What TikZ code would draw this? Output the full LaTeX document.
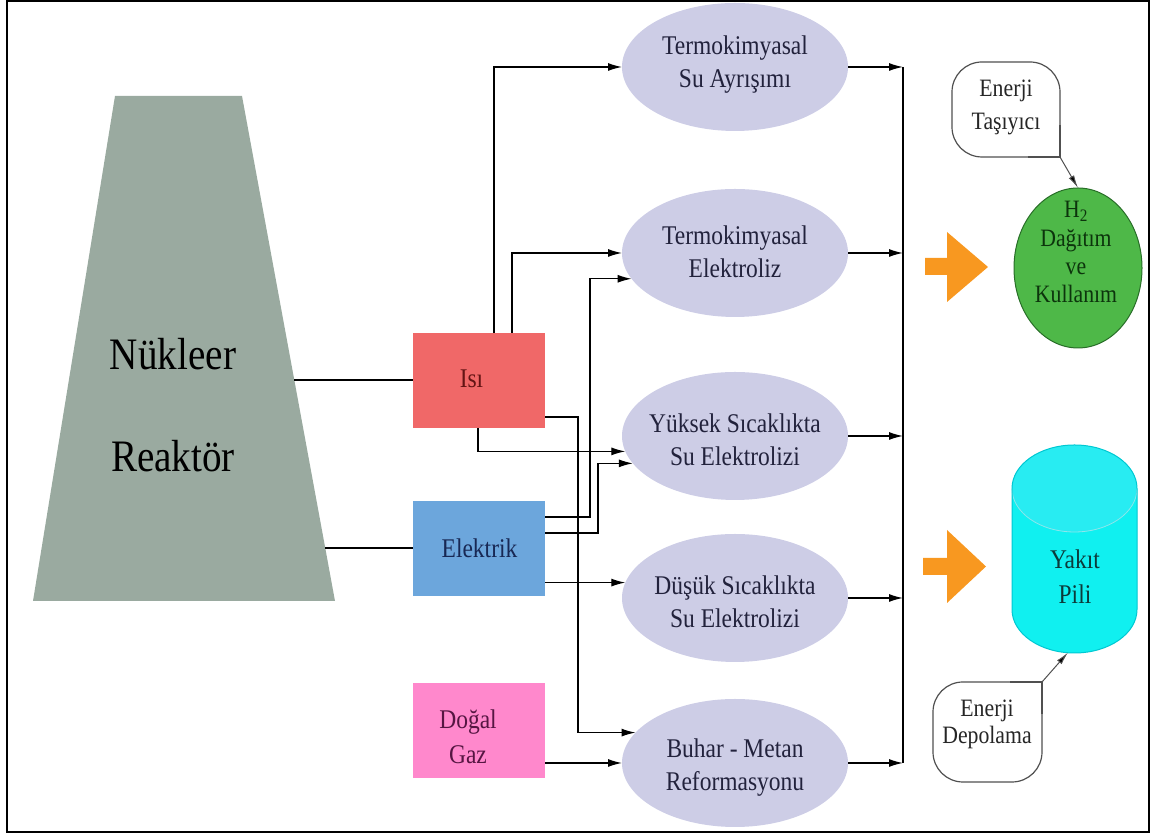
\documentclass[tikz,border=0pt]{standalone}
\usepackage{fontspec}
\setmainfont{Liberation Serif}[FakeStretch=0.87]
\usetikzlibrary{arrows.meta,shapes.geometric}
\definecolor{reactorc}{RGB}{154,170,160}
\definecolor{isired}{RGB}{240,104,104}
\definecolor{elekblue}{RGB}{108,166,220}
\definecolor{gazpink}{RGB}{255,136,204}
\definecolor{lav}{RGB}{205,205,230}
\definecolor{hgreen}{RGB}{78,184,72}
\definecolor{hedge}{RGB}{40,110,40}
\definecolor{cyanf}{RGB}{16,240,240}
\definecolor{cyanc}{RGB}{40,236,242}
\definecolor{cyane}{RGB}{0,200,210}
\definecolor{orng}{RGB}{248,152,32}
\definecolor{elltext}{RGB}{34,34,60}
\definecolor{isitext}{RGB}{100,20,20}
\definecolor{elektext}{RGB}{24,40,84}
\definecolor{gaztext}{RGB}{86,22,66}
\definecolor{htext}{RGB}{12,52,12}
\definecolor{ytext}{RGB}{12,58,58}
\definecolor{calledge}{RGB}{80,80,80}
\newcommand\fsz[2]{\fontsize{#1}{#2}\selectfont}
\begin{document}
\begin{tikzpicture}[x=1pt,y=1pt,
  arr/.style={line width=1.3pt,-{Latex[length=14pt,width=8pt]}},
  conn/.style={line width=1.3pt},
  srcbox/.style={rectangle,minimum width=132pt,minimum height=95pt,inner sep=0pt,outer sep=0pt},
  proc/.style={ellipse,fill=lav,minimum width=226pt,minimum height=128pt,inner sep=0pt,outer sep=0pt},
  ptext/.style={align=center,font=\fsz{27}{33},text=elltext,inner sep=0pt},
  btext/.style={align=center,font=\fsz{27}{35},inner sep=0pt},
  callbox/.style={rectangle,rounded corners=30pt,draw=calledge,line width=1.2pt,fill=white,inner sep=0pt,outer sep=0pt},
  calltext/.style={align=center,inner sep=0pt,text=black!85},
  tail/.style={line width=1pt,draw=calledge,-{Latex[length=13pt,width=6pt,fill=black]}}
]
\useasboundingbox (0,0) rectangle (1152,834);

% reactor
\fill[reactorc] (115,738) -- (242,738) -- (335,233) -- (33,233) -- cycle;
\node[anchor=base,font=\fsz{45}{50},inner sep=0pt] (nuk) at (173,464) {Nükleer};
\node[anchor=base,font=\fsz{45}{50},inner sep=0pt] (rea) at (173,362) {Reaktör};
\coordinate (r1) at (294.3,454);
\coordinate (r2) at (325.2,286);

% source boxes
\node[srcbox,fill=isired] (isi) at (479,453.5) {};
\node[srcbox,fill=elekblue] (elek) at (479,285.5) {};
\node[srcbox,fill=gazpink] (gaz) at (479,103.5) {};
\node[btext,anchor=base,text=isitext] (isit) at (471.5,446) {Isı};
\node[btext,anchor=base,text=elektext] (elekt) at (479.5,276) {Elektrik};
\node[btext,text=gaztext] (gazt) at (468,97.7) {Doğal\\Gaz};

% process ellipses
\node[proc] (e1) at (735,767) {};
\node[proc] (e2) at (735,581) {};
\node[proc] (e3) at (735,398) {};
\node[proc] (e4) at (735,236) {};
\node[proc] (e5) at (735,71) {};
\node[ptext] (e1t) at (735,769) {Termokimyasal\\Su Ayrışımı};
\node[ptext] (e2t) at (735,582) {Termokimyasal\\Elektroliz};
\node[ptext] (e3t) at (735,394) {Yüksek Sıcaklıkta\\Su Elektrolizi};
\node[ptext] (e4t) at (735,232) {Düşük Sıcaklıkta\\Su Elektrolizi};
\node[ptext] (e5t) at (735,66) {Buhar - Metan\\Reformasyonu};

% connectors reactor -> boxes
\draw[conn] (r1) -- (r1 -| isi.west);
\draw[conn] (r2) -- (r2 -| elek.west);

% connectors boxes -> processes
\draw[arr] (isi.north -| 494,0) |- (e1.west);
\draw[arr] (isi.north -| 512,0) |- (e2.west);
\draw[arr] (elek.east |- 0,317) -- (590,317) |- (e2.194);
\draw[arr] (isi.south -| 478,0) |- (e3.188);
\draw[arr] (elek.east |- 0,301) -- (598,301) |- (e3.195);
\draw[arr] (isi.east |- 0,417) -- (578,417) |- (e5.163);
\draw[arr] (elek.east |- e4.172) -- (e4.172);
\draw[arr] (gaz.east |- e5.west) -- (e5.west);

% collector
\coordinate (col) at (903,0);
\draw[conn] (col |- e1.east) -- (col |- e5.east);
\foreach \e in {e1,e2,e3,e4,e5}{
  \draw[arr] (\e.east) -- (\e.east -| col);
}

% orange arrows
\fill[orng] (925,559) -- (947,559) -- (947,532) -- (988,567) -- (947,602) -- (947,576) -- (925,576) -- cycle;
\fill[orng] (923,259) -- (947,259) -- (947,231) -- (986,267.5) -- (947,304) -- (947,276) -- (923,276) -- cycle;

% H2 ellipse
\node[ellipse,fill=hgreen,draw=hedge,line width=1pt,minimum width=128pt,minimum height=160pt,inner sep=0pt,outer sep=0pt] (h2) at (1078,566) {};
\node[align=center,font=\fsz{25}{28.3},text=htext,inner sep=0pt] (h2t) at (1076,581.8) {H\textsubscript{2}\\Dağıtım\\ve\\Kullanım};

% fuel cell cylinder
\fill[cyanf] (1012,345.5) -- (1012,224.5) arc[start angle=180,end angle=360,x radius=62.5,y radius=43.5] -- (1137,345.5) arc[start angle=0,end angle=180,x radius=62.5,y radius=43.5] -- cycle;
\fill[cyanc] (1074.5,345.5) ellipse[x radius=62.5,y radius=43.5];
\draw[cyane!45,line width=0.8pt] (1012,345.5) arc[start angle=180,end angle=360,x radius=62.5,y radius=43.5];
\draw[cyane,line width=1pt] (1012,345.5) -- (1012,224.5) arc[start angle=180,end angle=360,x radius=62.5,y radius=43.5] -- (1137,345.5) arc[start angle=0,end angle=180,x radius=62.5,y radius=43.5];
\node[btext,text=ytext] (yakit) at (1075,257.7) {Yakıt\\Pili};
\coordinate (cylb) at (1068,181.5);

% callouts
\node[callbox,minimum width=108pt,minimum height=95pt] (tasb) at (1006,724.5) {};
\fill[white] ([xshift=-32pt]tasb.south east) rectangle ([yshift=32pt]tasb.south east);
\draw[calledge,line width=1.2pt] ([xshift=-32pt]tasb.south east) -- (tasb.south east) -- ([yshift=32pt]tasb.south east);
\node[calltext,font=\fsz{25}{33}] (tas) at (1006,726.3) {Enerji\\Taşıyıcı};
\draw[tail] (tasb.south east) -- (h2.north);

\node[callbox,minimum width=109pt,minimum height=100pt] (depb) at (987.5,102) {};
\fill[white] ([xshift=-32pt]depb.north east) rectangle ([yshift=-32pt]depb.north east);
\draw[calledge,line width=1.2pt] ([xshift=-32pt]depb.north east) -- (depb.north east) -- ([yshift=-32pt]depb.north east);
\node[calltext,font=\fsz{25}{27}] (dep) at (987,109.3) {Enerji\\Depolama};
\draw[tail] (depb.north east) -- (cylb);

% frame
\draw[line width=1.8pt] (7,2) rectangle (1149,833);
\end{tikzpicture}
\end{document}
